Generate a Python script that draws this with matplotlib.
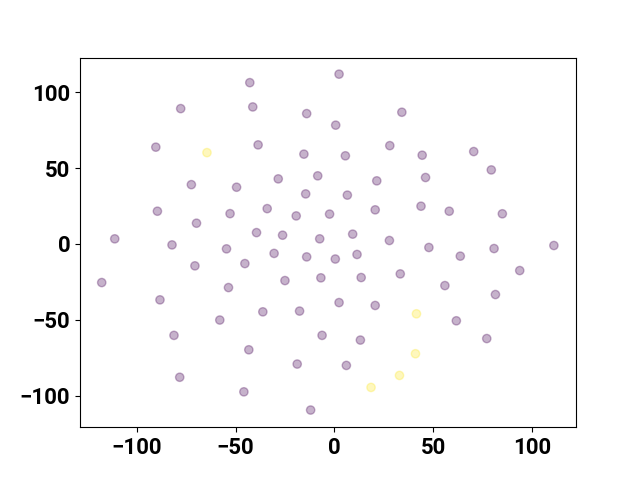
import numpy as np
import matplotlib
matplotlib.use("Agg")
import matplotlib.pyplot as plt

# embedding coordinates
x = [-42.8, 2.4, -77.8, -41.3, -14.0, 34.2, 0.7, -90.4, -64.5, -38.6,
     -15.4, 28.1, 5.6, 44.5, 70.6, 79.5, -72.4, -49.5, -28.4, -8.4,
     -14.5, 21.5, 46.2, 6.6, -89.6, -52.8, -34.0, -19.3, -2.4, 20.7,
     43.9, 58.2, 85.1, -111.2, -82.2, -69.8, -54.6, -39.4, -26.2, -7.4,
     -30.5, -14.0, 9.3, 27.9, 47.9, 63.8, 80.9, 111.2, 0.5, 11.5,
     -70.6, -45.3, -117.8, -25.0, -6.8, -53.6, -88.3, -36.2, -17.6, -58.0,
     -81.2, -6.2, -43.3, -18.8, -78.3, -45.8, -12.0, 13.6, 33.4, 56.0,
     93.9, 81.6, 2.4, 20.7, 41.6, 61.8, 13.2, 77.2, 41.1, 6.1,
     33.0, 18.6]
y = [106.3, 111.9, 89.2, 90.3, 85.9, 86.8, 78.3, 63.8, 60.2, 65.3,
     59.2, 64.8, 58.1, 58.5, 60.9, 48.8, 39.1, 37.4, 42.9, 44.9,
     33.0, 41.6, 43.8, 32.2, 21.6, 20.0, 23.3, 18.5, 19.7, 22.5,
     24.9, 21.6, 19.9, 3.4, -0.6, 13.7, -3.2, 7.5, 5.8, 3.4,
     -6.2, -8.5, 6.5, 2.3, -2.3, -8.0, -3.0, -1.0, -9.9, -6.9,
     -14.4, -12.9, -25.4, -24.1, -22.3, -28.7, -36.8, -44.7, -44.2, -50.1,
     -60.2, -60.2, -69.7, -79.1, -87.8, -97.4, -109.4, -22.1, -19.7, -27.4,
     -17.5, -33.3, -38.6, -40.5, -46.0, -50.6, -63.3, -62.3, -72.3, -80.0,
     -86.6, -94.5]
# class label of each point (1 = yellow)
label = [0, 0, 0, 0, 0, 0, 0, 0, 1, 0,
         0, 0, 0, 0, 0, 0, 0, 0, 0, 0,
         0, 0, 0, 0, 0, 0, 0, 0, 0, 0,
         0, 0, 0, 0, 0, 0, 0, 0, 0, 0,
         0, 0, 0, 0, 0, 0, 0, 0, 0, 0,
         0, 0, 0, 0, 0, 0, 0, 0, 0, 0,
         0, 0, 0, 0, 0, 0, 0, 0, 0, 0,
         0, 0, 0, 0, 1, 0, 0, 0, 1, 0,
         1, 1]

plt.rcParams['font.family'] = ['Roboto', 'DejaVu Sans']
plt.rcParams['font.weight'] = 'bold'
plt.rcParams['font.size'] = 16

fig, ax = plt.subplots(figsize=(6.4, 4.8), dpi=100)
ax.scatter(x, y, c=label, cmap='viridis', alpha=0.3)
ax.set_xlim(-128.8, 122.4)
ax.set_ylim(-120.7, 122.8)
ax.set_xticks([-100, -50, 0, 50, 100])
ax.set_yticks([-100, -50, 0, 50, 100])

fig.savefig('out.png')
